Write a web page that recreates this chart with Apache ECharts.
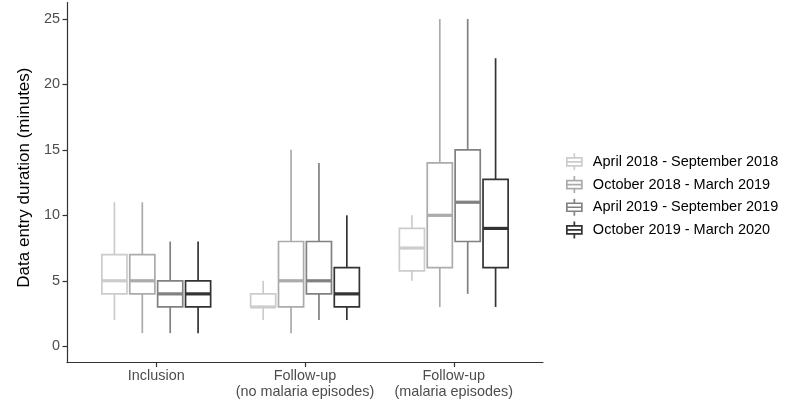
<!DOCTYPE html>
<html>
<head>
<meta charset="utf-8">
<script src="https://cdn.jsdelivr.net/npm/echarts@6/dist/echarts.min.js"></script>
<style>html,body{margin:0;padding:0;background:#fff}#c{width:800px;height:400px}</style>
</head>
<body>
<div id="c"></div>
<script>
// ---- data ----
const categories = ['Inclusion', 'Follow-up\n(no malaria episodes)', 'Follow-up\n(malaria episodes)'];
const seriesNames = ['April 2018 - September 2018', 'October 2018 - March 2019', 'April 2019 - September 2019', 'October 2019 - March 2020'];
// [min whisker, Q1, median, Q3, max whisker] per category
const apr2018 = [[2, 4, 5, 7, 11], [2, 3, 3, 4, 5], [5, 5.75, 7.5, 9, 10]];
const oct2018 = [[1, 4, 5, 7, 11], [1, 3, 5, 8, 15], [3, 6, 10, 14, 25]];
const apr2019 = [[1, 3, 4, 5, 8], [2, 4, 5, 8, 14], [4, 8, 11, 15, 25]];
const oct2019 = [[1, 3, 4, 5, 8], [2, 3, 4, 6, 10], [3, 6, 9, 12.75, 22]];
const yTicks = [0, 5, 10, 15, 20, 25];
const colors = ['#CCCCCC', '#ABABAB', '#818181', '#333333'];

const allSeries = [apr2018, oct2018, apr2019, oct2019];
const catPositions = categories.map((c, i) => i + 1);
const FONT = "'Liberation Sans', Arial, sans-serif";
const nS = allSeries.length;
const dodge = 0.75 / nS;

function makeRender(si) {
  return function (params, api) {
    const x = api.value(0);
    const cx = x + (si - 1.5) * dodge;
    const lo = api.coord([cx, api.value(1)]);
    const q1 = api.coord([cx, api.value(2)]);
    const md = api.coord([cx, api.value(3)]);
    const q3 = api.coord([cx, api.value(4)]);
    const hi = api.coord([cx, api.value(5)]);
    const hw = api.size([dodge * 0.9, 0])[0] / 2;
    const c = colors[si];
    const lw = 1.7;
    return {
      type: 'group',
      children: [
        { type: 'line', shape: { x1: q3[0], y1: q3[1], x2: hi[0], y2: hi[1] }, style: { stroke: c, lineWidth: lw } },
        { type: 'line', shape: { x1: lo[0], y1: lo[1], x2: q1[0], y2: q1[1] }, style: { stroke: c, lineWidth: lw } },
        { type: 'rect', shape: { x: q1[0] - hw, y: q3[1], width: hw * 2, height: q1[1] - q3[1] }, style: { fill: '#fff', stroke: c, lineWidth: lw } },
        { type: 'line', shape: { x1: md[0] - hw, y1: md[1], x2: md[0] + hw, y2: md[1] }, style: { stroke: c, lineWidth: 3.2 } }
      ]
    };
  };
}

const series = allSeries.map((vals, si) => ({
  type: 'custom',
  name: seriesNames[si],
  itemStyle: { color: colors[si] },
  renderItem: makeRender(si),
  encode: { x: 0, y: [1, 2, 3, 4, 5] },
  data: vals.map((v, ci) => [catPositions[ci]].concat(v)),
  clip: false
}));

const iconPath = 'path://M7.5 0 V4.5 M0 4.5 H15 V12.5 H0 Z M0 8.5 H15 M7.5 12.5 V17';

const chart = echarts.init(document.getElementById('c'), null, { renderer: 'canvas' });
chart.setOption({
  animation: false,
  backgroundColor: '#fff',
  textStyle: { fontFamily: FONT },
  grid: { left: 67, right: 257, top: 2.6, bottom: 37.4, containLabel: false },
  legend: {
    orient: 'vertical',
    left: 561,
    top: 147.5,
    itemWidth: 27,
    itemHeight: 17,
    itemGap: 4,
    textStyle: { fontSize: 14.5, color: '#000', fontFamily: FONT },
    data: seriesNames.map((n, i) => ({
      name: n,
      icon: iconPath,
      itemStyle: { color: 'rgba(0,0,0,0)', borderColor: colors[i], borderWidth: 1.7 }
    }))
  },
  xAxis: {
    type: 'value',
    min: 0.4,
    max: 3.6,
    splitLine: { show: false },
    axisLine: { show: true, onZero: false, lineStyle: { color: '#333', width: 1.2 } },
    axisTick: { show: true, length: 4.5, customValues: catPositions, lineStyle: { color: '#333', width: 1.2 } },
    axisLabel: {
      customValues: catPositions,
      formatter: v => categories[Math.round(v) - 1] || '',
      color: '#4d4d4d',
      fontSize: 14.4,
      lineHeight: 16,
      margin: 5,
      fontFamily: FONT
    }
  },
  yAxis: {
    type: 'value',
    min: -1.25,
    max: 26.25,
    name: 'Data entry duration (minutes)',
    nameLocation: 'middle',
    nameGap: 26,
    nameTextStyle: { fontSize: 17, color: '#000', fontFamily: FONT, padding: [0, 0, 0, 10] },
    splitLine: { show: false },
    axisLine: { show: true, onZero: false, lineStyle: { color: '#333', width: 1.2 } },
    axisTick: { show: true, length: 4.5, customValues: yTicks, lineStyle: { color: '#333', width: 1.2 } },
    axisLabel: { customValues: yTicks, color: '#4d4d4d', fontSize: 14.4, margin: 7, fontFamily: FONT }
  },
  series: series
});
</script>
</body>
</html>
